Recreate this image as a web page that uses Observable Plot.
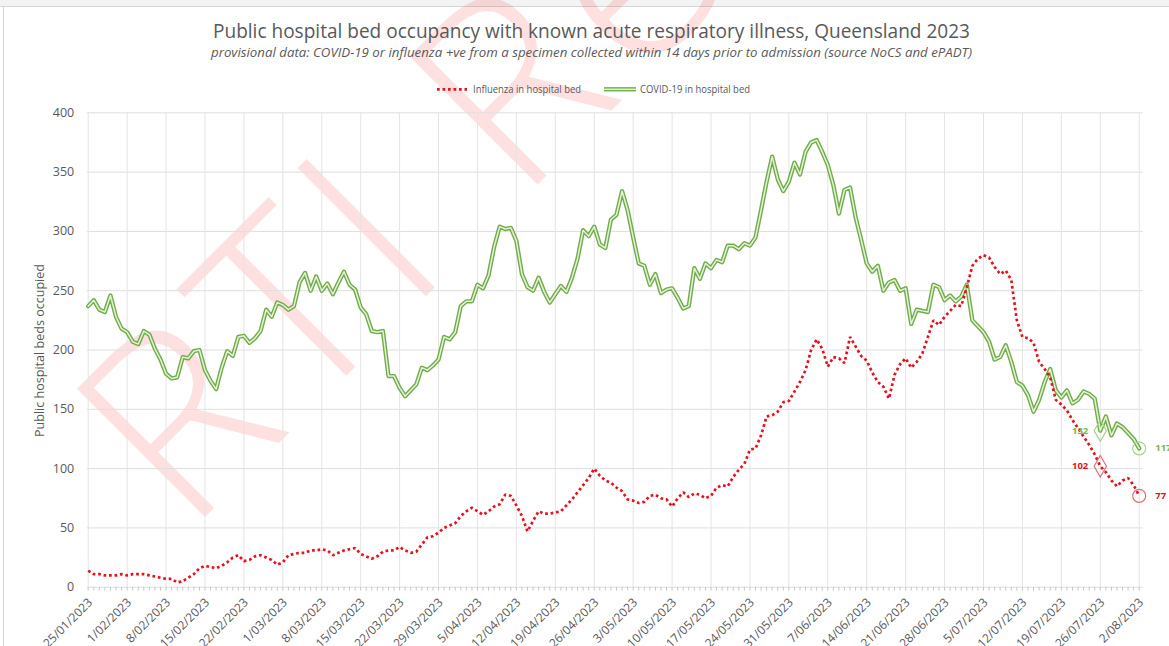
<!DOCTYPE html>
<html><head><meta charset="utf-8">
<script src="https://cdn.jsdelivr.net/npm/d3@7"></script>
<script src="https://cdn.jsdelivr.net/npm/@observablehq/plot@0.6"></script>
<style>
html,body{margin:0;padding:0;background:#fff;}
#chart{position:relative;width:1169px;height:646px;overflow:hidden;background:#fff;}
</style></head><body><div id="chart"></div>
<script>
const titleText = "Public hospital bed occupancy with known acute respiratory illness, Queensland 2023";
const subtitleText = "provisional data: COVID-19 or influenza +ve from a specimen collected within 14 days prior to admission (source NoCS and ePADT)";
const yTitle = "Public hospital beds occupied";
const seriesNames = ["Influenza in hospital bed", "COVID-19 in hospital bed"];
const watermarkText = "RTI Release";

const tickLabels = ["25/01/2023","1/02/2023","8/02/2023","15/02/2023","22/02/2023","1/03/2023","8/03/2023","15/03/2023","22/03/2023","29/03/2023","5/04/2023","12/04/2023","19/04/2023","26/04/2023","3/05/2023","10/05/2023","17/05/2023","24/05/2023","31/05/2023","7/06/2023","14/06/2023","21/06/2023","28/06/2023","5/07/2023","12/07/2023","19/07/2023","26/07/2023","2/08/2023"];
const yTicks = [0,50,100,150,200,250,300,350,400];

// daily values from 25/01/2023 to 2/08/2023
const influenza = [14,11,11,10,10,10,11,10,11,11, 11,10,9,8,7,7,4,5,8,11, 16,18,17,16,18,21,25,27,22,23, 26,27,25,23,19,21,27,28,29,29, 31,31,32,31,27,29,31,32,33,28, 26,24,26,30,31,31,34,31,29,30, 36,42,43,46,50,52,54,60,64,67, 64,61,64,68,70,78,77,69,60,47, 56,64,62,62,63,64,69,74,80,86, 92,100,94,90,88,84,81,74,73,71, 72,77,78,75,74,68,75,80,76,79, 78,75,77,84,86,85,93,99,104,116, 117,128,144,145,148,156,157,165,173,183, 200,209,201,186,194,193,189,211,203,195, 191,181,173,169,159,179,188,193,185,190, 197,211,225,221,228,233,238,237,253,271, 277,280,278,270,264,267,259,225,211,210, 206,190,184,177,158,154,149,141,134,127, 120,112,102,97,90,85,90,92,86,77];
const covid = [237,242,234,232,246,228,218,215,207,205, 216,213,201,192,180,176,177,194,193,199, 200,183,174,167,185,199,195,211,212,206, 210,216,234,228,240,238,234,237,257,265, 250,262,250,256,247,257,266,255,251,236, 230,216,215,216,178,178,168,161,166,171, 185,183,187,192,211,209,215,237,241,241, 255,252,263,287,304,302,303,292,264,253, 250,261,249,240,247,254,249,261,277,301, 296,304,289,286,310,314,334,318,295,273, 271,255,264,248,251,252,244,235,237,269, 260,273,269,276,274,288,288,285,290,288, 295,318,342,363,344,334,342,358,348,367, 375,377,367,356,339,315,335,337,312,293, 273,266,271,250,257,259,250,252,222,234, 233,232,255,253,242,246,241,245,255,225, 220,215,207,192,194,204,190,173,170,162, 148,158,173,184,166,160,166,155,158,165, 163,159,132,144,128,138,135,130,125,117];

// annotated days (index into the daily arrays): diamond with label on the left, circle with label on the right
const markDays = [182, 189];

const day0 = Date.UTC(2023, 0, 25);
const dateOf = i => new Date(day0 + i * 864e5);
const rows = influenza.map((v, i) => ({date: dateOf(i), flu: v, covid: covid[i]}));
const weekDates = tickLabels.map((t, i) => dateOf(i * 7));

const FONT = "'Open Sans', 'DejaVu Sans', sans-serif";
const GREY = "#595959";
const GREEN = "#70ad47", GREEN_IN = "#e4f0dc", RED = "#e8101c";

const diamG = [{date: dateOf(markDays[0]), v: covid[markDays[0]]}];
const circG = [{date: dateOf(markDays[1]), v: covid[markDays[1]]}];
const diamR = [{date: dateOf(markDays[0]), v: influenza[markDays[0]]}];
const circR = [{date: dateOf(markDays[1]), v: influenza[markDays[1]]}];

const lblOpts = (fill, left) => ({x: "date", y: "v", text: d => String(d.v), textAnchor: left ? "end" : "start",
  dx: left ? -12 : 16, fontSize: 9.5, fontWeight: "bold", fill});

const plot = Plot.plot({
  width: 1169, height: 646,
  marginTop: 112.3, marginBottom: 59.3, marginLeft: 87.7, marginRight: 30.3,
  style: {background: "transparent", fontFamily: FONT, color: GREY, overflow: "visible"},
  x: {type: "utc", domain: [dateOf(0), dateOf(influenza.length - 1)], axis: null},
  y: {domain: [0, 400], axis: null},
  marks: [
    Plot.ruleY(yTicks, {stroke: "#dedede", strokeWidth: 1, insetRight: -4, insetLeft: -1}),
    Plot.ruleX(weekDates, {stroke: "#e4e4e4", strokeWidth: 1}),
    Plot.ruleX(rows, {x: "date", y1: 0, y2: 0, insetBottom: -4, stroke: "#c8c8c8", strokeWidth: 1}),
    Plot.axisY(yTicks, {tickSize: 0, tickPadding: 14, fontSize: 12.5, fill: GREY, label: null}),
    Plot.text(weekDates, {x: d => d, text: (d, i) => tickLabels[i], frameAnchor: "bottom", rotate: -45,
      textAnchor: "end", lineAnchor: "top", dx: -1, dy: 10, fontSize: 12, fill: GREY}),
    Plot.line(rows, {x: "date", y: "covid", stroke: GREEN, strokeWidth: 4.3, strokeLinejoin: "round"}),
    Plot.line(rows, {x: "date", y: "covid", stroke: GREEN_IN, strokeWidth: 1.5, strokeLinejoin: "round"}),
    Plot.line(rows, {x: "date", y: "flu", stroke: RED, strokeWidth: 2.7, strokeDasharray: "2.7,2.8", strokeLinecap: "butt", strokeLinejoin: "miter"}),
    Plot.dot(diamG, {x: "date", y: "v", symbol: "diamond", r: 6.5, stroke: "#a9d18e", strokeWidth: 1.2, fill: "none"}),
    Plot.dot(circG, {x: "date", y: "v", symbol: "circle", r: 6.5, stroke: "#a9d18e", strokeWidth: 1.2, fill: "none"}),
    Plot.dot(diamR, {x: "date", y: "v", symbol: "diamond", r: 6.5, stroke: "#e0707c", strokeWidth: 1.2, fill: "none"}),
    Plot.dot(circR, {x: "date", y: "v", symbol: "circle", r: 6.5, stroke: "#e0707c", strokeWidth: 1.2, fill: "none"}),
    Plot.text(diamG, lblOpts("#7ab648", true)),
    Plot.text(circG, lblOpts("#7ab648", false)),
    Plot.text(diamR, lblOpts(RED, true)),
    Plot.text(circR, lblOpts(RED, false))
  ]
});

const svg = d3.select(plot);
// watermark (behind everything)
const wm = svg.insert("g", ":first-child").attr("pointer-events", "none");
wm.append("text").attr("transform", "translate(187,535) rotate(-45)").attr("text-anchor", "start")
  .attr("font-family", FONT).attr("font-weight", 300).attr("font-size", 254)
  .attr("letter-spacing", 14).attr("fill", "rgba(255,0,0,0.12)").text(watermarkText);
// frame borders
const fr = svg.insert("g", ":first-child");
fr.append("rect").attr("x", 0).attr("y", 0).attr("width", 1169).attr("height", 6).attr("fill", "#f3f3f3");
fr.append("line").attr("x1", 0).attr("x2", 1169).attr("y1", 6.5).attr("y2", 6.5).attr("stroke", "#d6d6d6");
fr.append("line").attr("x1", 3.5).attr("x2", 3.5).attr("y1", 6.5).attr("y2", 646).attr("stroke", "#d6d6d6");

const hdr = svg.append("g").attr("fill", GREY).attr("font-family", FONT);
hdr.append("text").attr("x", 591.5).attr("y", 38).attr("text-anchor", "middle").attr("font-size", 20)
  .attr("textLength", 757).attr("lengthAdjust", "spacingAndGlyphs").text(titleText);
hdr.append("text").attr("x", 591.5).attr("y", 57).attr("text-anchor", "middle").attr("font-size", 12.5)
  .attr("font-style", "italic").attr("textLength", 761).attr("lengthAdjust", "spacingAndGlyphs").text(subtitleText);
// legend
const lg = hdr.append("g").attr("font-size", 10.5).attr("text-anchor", "start");
lg.append("line").attr("x1", 437).attr("x2", 467).attr("y1", 89.3).attr("y2", 89.3)
  .attr("stroke", RED).attr("stroke-width", 2.7).attr("stroke-dasharray", "2.7,2.8");
lg.append("text").attr("x", 473).attr("y", 92.8).attr("textLength", 108).attr("lengthAdjust", "spacingAndGlyphs").text(seriesNames[0]);
lg.append("line").attr("x1", 604).attr("x2", 636).attr("y1", 89.3).attr("y2", 89.3).attr("stroke", GREEN).attr("stroke-width", 4.3);
lg.append("line").attr("x1", 604).attr("x2", 636).attr("y1", 89.3).attr("y2", 89.3).attr("stroke", GREEN_IN).attr("stroke-width", 1.5);
lg.append("text").attr("x", 640).attr("y", 92.8).attr("textLength", 110).attr("lengthAdjust", "spacingAndGlyphs").text(seriesNames[1]);
// y title
hdr.append("text").attr("transform", "translate(44,350.5) rotate(-90)").attr("text-anchor", "middle")
  .attr("font-size", 12).attr("textLength", 173).attr("lengthAdjust", "spacingAndGlyphs").text(yTitle);

document.getElementById("chart").appendChild(plot);
</script></body></html>
